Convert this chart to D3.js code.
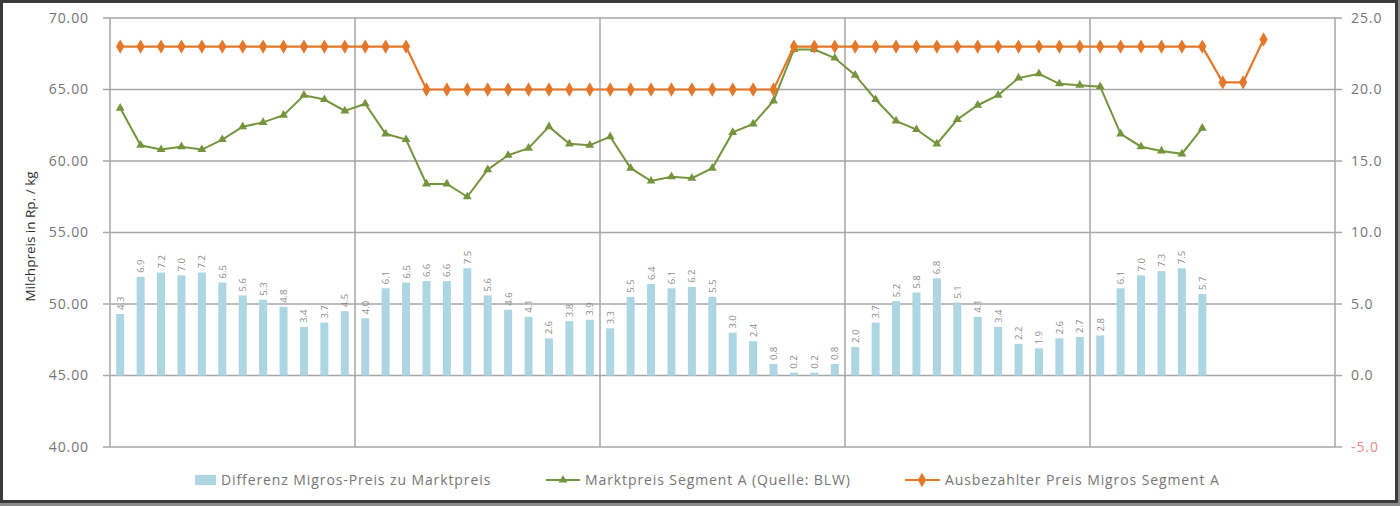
<!DOCTYPE html>
<html>
<head>
<meta charset="utf-8">
<script src="https://cdn.jsdelivr.net/npm/d3@7"></script>
<style>
  html, body { margin: 0; padding: 0; background: #fff; }
  svg { display: block; font-family: "Open Sans", Lato, sans-serif; }
</style>
</head>
<body>
<svg id="chart" width="1400" height="506"></svg>
<script>
// Differenz Migros-Preis zu Marktpreis (Rp./kg, right axis)
const diffValues = [
  4.3, 6.9, 7.2, 7.0, 7.2, 6.5, 5.6, 5.3, 4.8, 3.4, 3.7, 4.5,
  4.0, 6.1, 6.5, 6.6, 6.6, 7.5, 5.6, 4.6, 4.1, 2.6, 3.8, 3.9,
  3.3, 5.5, 6.4, 6.1, 6.2, 5.5, 3.0, 2.4, 0.8, 0.2, 0.2, 0.8,
  2.0, 3.7, 5.2, 5.8, 6.8, 5.1, 4.1, 3.4, 2.2, 1.9, 2.6, 2.7,
  2.8, 6.1, 7.0, 7.3, 7.5, 5.7
];

// Marktpreis Segment A (Quelle: BLW), left axis
const marketPrice = [
  63.7, 61.1, 60.8, 61.0, 60.8, 61.5, 62.4, 62.7, 63.2, 64.6, 64.3, 63.5,
  64.0, 61.9, 61.5, 58.4, 58.4, 57.5, 59.4, 60.4, 60.9, 62.4, 61.2, 61.1,
  61.7, 59.5, 58.6, 58.9, 58.8, 59.5, 62.0, 62.6, 64.2, 67.8, 67.8, 67.2,
  66.0, 64.3, 62.8, 62.2, 61.2, 62.9, 63.9, 64.6, 65.8, 66.1, 65.4, 65.3,
  65.2, 61.9, 61.0, 60.7, 60.5, 62.3
];

// Ausbezahlter Preis Migros Segment A, left axis
const migrosPrice = [
  68, 68, 68, 68, 68, 68, 68, 68, 68, 68, 68, 68,
  68, 68, 68, 65, 65, 65, 65, 65, 65, 65, 65, 65,
  65, 65, 65, 65, 65, 65, 65, 65, 65, 68, 68, 68,
  68, 68, 68, 68, 68, 68, 68, 68, 68, 68, 68, 68,
  68, 68, 68, 68, 68, 68, 65.5, 65.5, 68.5
];

const categoryCount = 60;
const leftTicks = [40, 45, 50, 55, 60, 65, 70];
const rightTicks = [-5, 0, 5, 10, 15, 20, 25];
const seriesNames = [
  'Differenz Migros-Preis zu Marktpreis',
  'Marktpreis Segment A (Quelle: BLW)',
  'Ausbezahlter Preis Migros Segment A'
];

const svg = d3.select('#chart');
const width = +svg.attr('width');
const height = +svg.attr('height');
const margin = { top: 18, right: 65, bottom: 59, left: 110 };

const barColor = '#acd6e4';
const greenColor = '#74943e';
const orangeColor = '#e4782a';
const gridColor = '#a6a6a6';
const textColor = '#757575';

// outer frame
svg.append('rect')
  .attr('x', 0).attr('y', 0)
  .attr('width', width).attr('height', height)
  .attr('fill', '#8a8a8a');
svg.append('rect')
  .attr('x', 1.5).attr('y', 1.5)
  .attr('width', width - 5).attr('height', height - 6)
  .attr('fill', '#fff')
  .attr('stroke', '#3a3a3a')
  .attr('stroke-width', 3);

const x = d3.scaleBand()
  .domain(d3.range(categoryCount))
  .range([margin.left, width - margin.right]);

const yLeft = d3.scaleLinear().domain([40, 70]).range([height - margin.bottom, margin.top]);
const yRight = d3.scaleLinear().domain([-5, 25]).range([height - margin.bottom, margin.top]);

const cx = i => x(i) + x.bandwidth() / 2;

// horizontal gridlines
svg.append('g')
  .selectAll('line')
  .data(leftTicks)
  .enter()
  .append('line')
  .attr('x1', margin.left - 7)
  .attr('x2', width - margin.right + 7)
  .attr('y1', d => yLeft(d))
  .attr('y2', d => yLeft(d))
  .attr('stroke', gridColor)
  .attr('stroke-width', 1.5);

// vertical year separators + plot sides
const separators = [0, 12, 24, 36, 48, categoryCount];
svg.append('g')
  .selectAll('line')
  .data(separators)
  .enter()
  .append('line')
  .attr('x1', d => d === categoryCount ? width - margin.right : x(d))
  .attr('x2', d => d === categoryCount ? width - margin.right : x(d))
  .attr('y1', margin.top)
  .attr('y2', height - margin.bottom)
  .attr('stroke', gridColor)
  .attr('stroke-width', 1.5);

// left axis labels
svg.append('g')
  .selectAll('text')
  .data(leftTicks)
  .enter()
  .append('text')
  .attr('x', 89)
  .attr('y', d => yLeft(d))
  .attr('dy', '0.35em')
  .attr('text-anchor', 'end')
  .attr('font-size', 14)
  .attr('letter-spacing', 0.9)
  .attr('fill', textColor)
  .text(d => d.toFixed(2));

// right axis labels
svg.append('g')
  .selectAll('text')
  .data(rightTicks)
  .enter()
  .append('text')
  .attr('x', width - margin.right + 16)
  .attr('y', d => yRight(d))
  .attr('dy', '0.35em')
  .attr('font-size', 14)
  .attr('letter-spacing', 0.9)
  .attr('fill', d => d < 0 ? '#e8888a' : textColor)
  .text(d => d.toFixed(1));

// axis title
svg.append('text')
  .attr('transform', `translate(35, ${(margin.top + height - margin.bottom) / 2 + 4}) rotate(-90)`)
  .attr('text-anchor', 'middle')
  .attr('font-size', 13.5)
  .attr('fill', '#2e2e2e')
  .text('Milchpreis in Rp. / kg');

// bars
const barWidth = 8;
svg.append('g')
  .selectAll('rect')
  .data(diffValues)
  .enter()
  .append('rect')
  .attr('x', (d, i) => cx(i) - barWidth / 2)
  .attr('y', d => yRight(d))
  .attr('width', barWidth)
  .attr('height', d => yRight(0) - yRight(d))
  .attr('fill', barColor);

// bar labels
svg.append('g')
  .selectAll('text')
  .data(diffValues)
  .enter()
  .append('text')
  .attr('transform', (d, i) => `translate(${cx(i) + 3.5}, ${yRight(d) - 4}) rotate(-90)`)
  .attr('font-size', 9.5)
  .attr('fill', '#8c8c8c')
  .text(d => d.toFixed(1));

// lines
const line = d3.line()
  .x((d, i) => cx(i))
  .y(d => yLeft(d));

svg.append('path')
  .datum(marketPrice)
  .attr('d', line)
  .attr('fill', 'none')
  .attr('stroke', greenColor)
  .attr('stroke-width', 2);

svg.append('g')
  .selectAll('path')
  .data(marketPrice)
  .enter()
  .append('path')
  .attr('transform', (d, i) => `translate(${cx(i)}, ${yLeft(d)})`)
  .attr('d', d3.symbol().type(d3.symbolTriangle).size(34))
  .attr('fill', greenColor);

svg.append('path')
  .datum(migrosPrice)
  .attr('d', line)
  .attr('fill', 'none')
  .attr('stroke', orangeColor)
  .attr('stroke-width', 2.2);

svg.append('g')
  .selectAll('path')
  .data(migrosPrice)
  .enter()
  .append('path')
  .attr('transform', (d, i) => `translate(${cx(i)}, ${yLeft(d)})`)
  .attr('d', d3.symbol().type(d3.symbolDiamond).size(60))
  .attr('fill', orangeColor);

// legend
const legendY = 480;
const legend = svg.append('g')
  .attr('font-size', 14)
  .attr('letter-spacing', 0.9)
  .attr('fill', textColor);

legend.append('rect')
  .attr('x', 195).attr('y', legendY - 5)
  .attr('width', 21).attr('height', 10)
  .attr('fill', barColor);
legend.append('text')
  .attr('x', 221).attr('y', legendY).attr('dy', '0.35em')
  .text(seriesNames[0]);

legend.append('line')
  .attr('x1', 546).attr('x2', 580)
  .attr('y1', legendY).attr('y2', legendY)
  .attr('stroke', greenColor).attr('stroke-width', 2);
legend.append('path')
  .attr('transform', `translate(563, ${legendY})`)
  .attr('d', d3.symbol().type(d3.symbolTriangle).size(34))
  .attr('fill', greenColor);
legend.append('text')
  .attr('x', 585).attr('y', legendY).attr('dy', '0.35em')
  .text(seriesNames[1]);

legend.append('line')
  .attr('x1', 905).attr('x2', 940)
  .attr('y1', legendY).attr('y2', legendY)
  .attr('stroke', orangeColor).attr('stroke-width', 2.2);
legend.append('path')
  .attr('transform', `translate(922, ${legendY})`)
  .attr('d', d3.symbol().type(d3.symbolDiamond).size(60))
  .attr('fill', orangeColor);
legend.append('text')
  .attr('x', 945).attr('y', legendY).attr('dy', '0.35em')
  .text(seriesNames[2]);
</script>
</body>
</html>
